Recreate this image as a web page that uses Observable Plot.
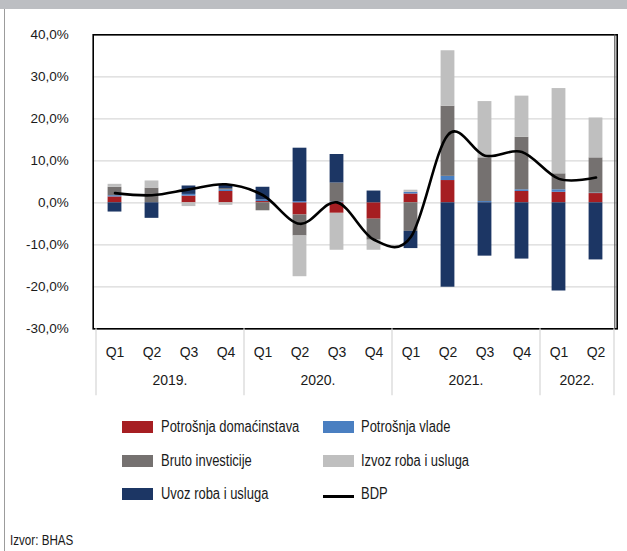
<!DOCTYPE html>
<html>
<head>
<meta charset="utf-8">
<script src="https://cdn.jsdelivr.net/npm/d3@7"></script>
<script src="https://cdn.jsdelivr.net/npm/@observablehq/plot@0.6"></script>
<style>
  html, body { margin: 0; padding: 0; background: #fff; }
  #wrap { position: relative; width: 627px; height: 551px; overflow: hidden; background: #fff; font-family: "Liberation Sans", Arial, sans-serif; color: #1a1a1a; }
  #band { position: absolute; left: 0; top: 0; width: 627px; height: 9px; background: #bcbec2; }
  #lborder { position: absolute; left: 3.5px; top: 9px; width: 1.5px; height: 542px; background: #9c9c9c; }
  #chart { position: absolute; left: 0; top: 0; }
  .lg { position: absolute; font-size: 16px; line-height: 16px; white-space: nowrap; transform: scaleX(0.81); transform-origin: 0 50%; }
  .sw { position: absolute; width: 31px; height: 12px; }
  #src { position: absolute; left: 9.5px; top: 532px; font-size: 14px; line-height: 16px; white-space: nowrap; transform: scaleX(0.83); transform-origin: 0 50%; }
</style>
</head>
<body>
<div id="wrap">
  <div id="band"></div>
  <div id="lborder"></div>
  <div id="chart"></div>
  <div id="legend"></div>
  <div id="src">Izvor: BHAS</div>
</div>
<script>
// ---- data ----
const quarters = ["Q1","Q2","Q3","Q4","Q1","Q2","Q3","Q4","Q1","Q2","Q3","Q4","Q1","Q2"];
const years    = ["2019.","2019.","2019.","2019.","2020.","2020.","2020.","2020.","2021.","2021.","2021.","2021.","2022.","2022."];
const household   = [1.4, 0.0, 1.6, 2.7, 0.3, -2.9, -2.5, -3.9, 2.1, 5.3, 0.0, 2.7, 2.5, 2.2];
const government  = [0.3, 0.0, 0.4, 0.4, 0.4, 0.3, 0.2, 0.0, 0.4, 1.0, 0.3, 0.4, 0.6, 0.1];
const investment  = [2.0, 3.5, 0.0, 0.3, -1.9, -5.0, 4.5, -5.0, -6.8, 16.7, 10.4, 12.5, 3.8, 8.4];
const exportsGS   = [0.7, 1.7, -0.9, -0.6, 0.0, -9.7, -8.8, -2.4, 0.5, 13.2, 13.4, 9.8, 20.3, 9.5];
const importsGS   = [-2.2, -3.7, 2.0, 0.9, 3.0, 12.7, 6.8, 2.8, -4.1, -20.1, -12.7, -13.4, -21.0, -13.6];
const bdp         = [2.3, 1.8, 3.2, 4.4, 1.8, -5.0, 0.1, -8.8, -8.1, 16.2, 11.2, 12.1, 5.7, 6.0];
const yTicks = [-30, -20, -10, 0, 10, 20, 30, 40];

const seriesNames  = ["Potrošnja domaćinstava", "Potrošnja vlade", "Bruto investicije", "Izvoz roba i usluga", "Uvoz roba i usluga"];
const seriesValues = [household, government, investment, exportsGS, importsGS];
const seriesColors = ["#a61e22", "#4a7fc1", "#757170", "#bfbfbf", "#1c3664"];

// ---- tables ----
const keys = quarters.map((q, i) => years[i] + " " + q);
const table = [];
seriesNames.forEach((s, j) => keys.forEach((k, i) => table.push({key: k, series: s, value: seriesValues[j][i]})));
const line = keys.map((k, i) => ({key: k, value: bdp[i]}));

const fmt = d => d.toFixed(1).replace(".", ",") + "%";

const plot = Plot.plot({
  width: 627,
  height: 400,
  marginLeft: 92.7,
  marginRight: 10.3,
  marginTop: 34.3,
  marginBottom: 71.7,
  style: {fontFamily: "Liberation Sans, Arial, sans-serif", color: "#1a1a1a", background: "transparent"},
  x: {type: "band", domain: keys, padding: 0},
  y: {domain: [-30, 40]},
  color: {domain: seriesNames, range: seriesColors},
  marks: [
    Plot.ruleY(yTicks, {stroke: "#d9d9d9", strokeWidth: 1.3}),
    Plot.barY(table, {x: "key", y: "value", fill: "series", insetLeft: 11.6, insetRight: 11.6}),
    Plot.line(line, {x: "key", y: "value", stroke: "#000", strokeWidth: 2.6, curve: "cardinal", tension: 0}),
    Plot.frame({stroke: "#000", strokeWidth: 1.6}),
    Plot.axisY({ticks: yTicks, tickFormat: fmt, tickSize: 0, tickPadding: 24.5, fontSize: 13.5, label: null}),
    Plot.axisX({tickFormat: (d, i) => quarters[keys.indexOf(d)], tickSize: 0, tickPadding: 18, fontSize: 14, label: null})
  ]
});

// year separators and labels via the plot's x scale
const xs = plot.scale("x");
const ys = plot.scale("y");
const step = xs.step;
const yBottom = ys.apply(-30);
const svg = d3.select(plot);
const yearList = Array.from(new Set(years));
const g = svg.append("g");
const bounds = [];
yearList.forEach((yr, n) => {
  const ks = keys.filter((k, i) => years[i] === yr);
  const x0 = xs.apply(ks[0]);
  const x1 = xs.apply(ks[ks.length - 1]) + step;
  if (n === 0) bounds.push(x0);
  bounds.push(x1);
  g.append("text")
    .attr("x", (x0 + x1) / 2)
    .attr("y", yBottom + 57)
    .attr("text-anchor", "middle")
    .attr("font-size", 14)
    .attr("fill", "#1a1a1a")
    .text(yr);
});
bounds.forEach(b => {
  g.append("line")
    .attr("x1", b).attr("x2", b)
    .attr("y1", yBottom).attr("y2", yBottom + 67)
    .attr("stroke", "#d9d9d9").attr("stroke-width", 1.3);
});
// slightly heavier right frame edge as in the reference
g.append("line")
  .attr("x1", xs.apply(keys[keys.length - 1]) + step + 0.8).attr("x2", xs.apply(keys[keys.length - 1]) + step + 0.8)
  .attr("y1", ys.apply(40)).attr("y2", yBottom)
  .attr("stroke", "#555").attr("stroke-width", 1.2);
document.getElementById("chart").appendChild(plot);

// legend
const legend = document.getElementById("legend");
const legendItems = [
  {name: seriesNames[0], color: seriesColors[0], col: 0, row: 0},
  {name: seriesNames[1], color: seriesColors[1], col: 1, row: 0},
  {name: seriesNames[2], color: seriesColors[2], col: 0, row: 1},
  {name: seriesNames[3], color: seriesColors[3], col: 1, row: 1},
  {name: seriesNames[4], color: seriesColors[4], col: 0, row: 2},
  {name: "BDP", color: null, col: 1, row: 2}
];
const colX = [122.3, 322.7];
const rowY = [427, 461, 494];
legendItems.forEach(it => {
  const sw = document.createElement("div");
  sw.className = "sw";
  sw.style.left = colX[it.col] + "px";
  if (it.color) {
    sw.style.top = (rowY[it.row] - 6) + "px";
    sw.style.background = it.color;
  } else {
    sw.style.top = (rowY[it.row] + 1) + "px";
    sw.style.height = "2.6px";
    sw.style.background = "#000";
  }
  legend.appendChild(sw);
  const t = document.createElement("div");
  t.className = "lg";
  t.style.left = (colX[it.col] + 38.7) + "px";
  t.style.top = (rowY[it.row] - 8) + "px";
  t.textContent = it.name;
  legend.appendChild(t);
});
</script>
</body>
</html>
